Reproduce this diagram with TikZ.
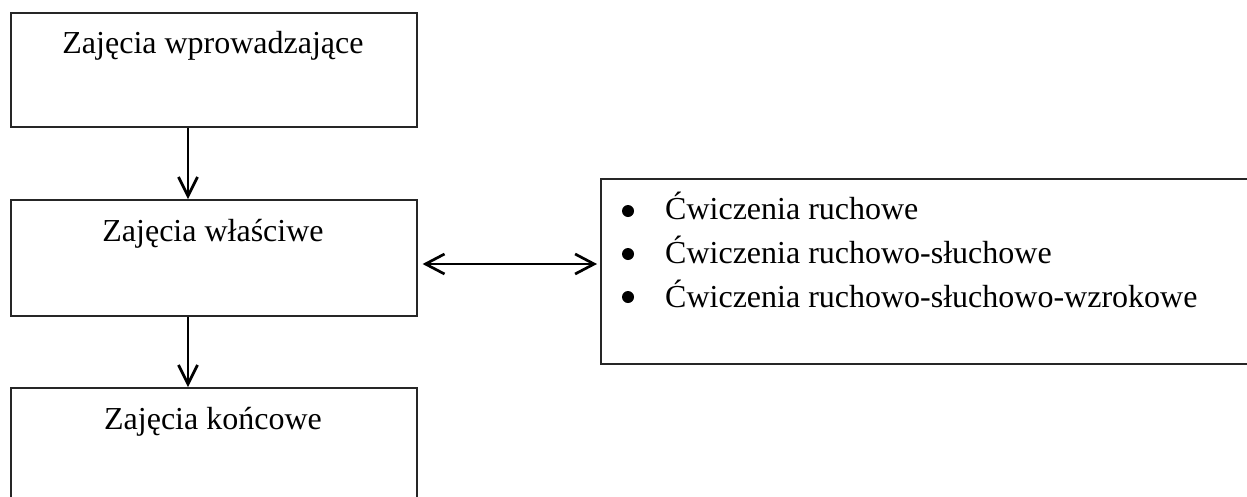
\documentclass[tikz,border=0pt]{standalone}
\usepackage{fontspec}
\setmainfont{Liberation Serif}
\usetikzlibrary{arrows.meta}
\begin{document}
\begin{tikzpicture}[x=1pt,y=-1pt,
  box/.style={draw=black!85, line width=1.6pt, minimum width=406pt, inner sep=0pt, anchor=north west},
  txt/.style={font=\fontsize{32}{38}\selectfont, inner sep=0pt},
  dot/.style={circle, fill=black, minimum size=12pt, inner sep=0pt},
  arr/.style={line width=2.7pt, -{Straight Barb[length=19pt,width=19pt,line width=2.7pt]}},
  darr/.style={line width=2.7pt, {Straight Barb[length=19pt,width=20pt,line width=2.7pt]}-{Straight Barb[length=19pt,width=20pt,line width=2.7pt]}}]
\useasboundingbox (0,0) rectangle (1247,496);
\clip (0,0) rectangle (1247,496);

% stage boxes
\node[box, minimum height=114pt] (b1) at (10,12) {};
\node[box, minimum height=116pt] (b2) at (10,199) {};
\node[box, minimum height=120pt] (b3) at (10,387) {};

\node[txt, anchor=base] (t1) at (213,53) {Zajęcia wprowadzające};
\node[txt, anchor=base] (t2) at (213,241) {Zajęcia właściwe};
\node[txt, anchor=base] (t3) at (213,429) {Zajęcia końcowe};

% exercise list box
\node[draw=black!85, line width=1.6pt, minimum width=680pt, minimum height=185pt, inner sep=0pt, anchor=north west] (r) at (600,178) {};
\node[dot] (d1) at (628,211) {};
\node[dot] (d2) at (628,254) {};
\node[dot] (d3) at (628,297) {};
\node[txt, anchor=base west] (l1) at (665,219) {Ćwiczenia ruchowe};
\node[txt, anchor=base west] (l2) at (665,263) {Ćwiczenia ruchowo-słuchowe};
\node[txt, anchor=base west] (l3) at (665,307) {Ćwiczenia ruchowo-słuchowo-wzrokowe};

% connectors
\coordinate (ax) at (188,0);
\coordinate (hy) at (0,264);
\draw[arr] (ax |- b1.south) -- (ax |- b2.north);
\draw[arr] (ax |- b2.south) -- (ax |- b3.north);
\draw[darr, shorten <=5pt, shorten >=3pt] (b2.east |- hy) -- (r.west |- hy);
\end{tikzpicture}
\end{document}
